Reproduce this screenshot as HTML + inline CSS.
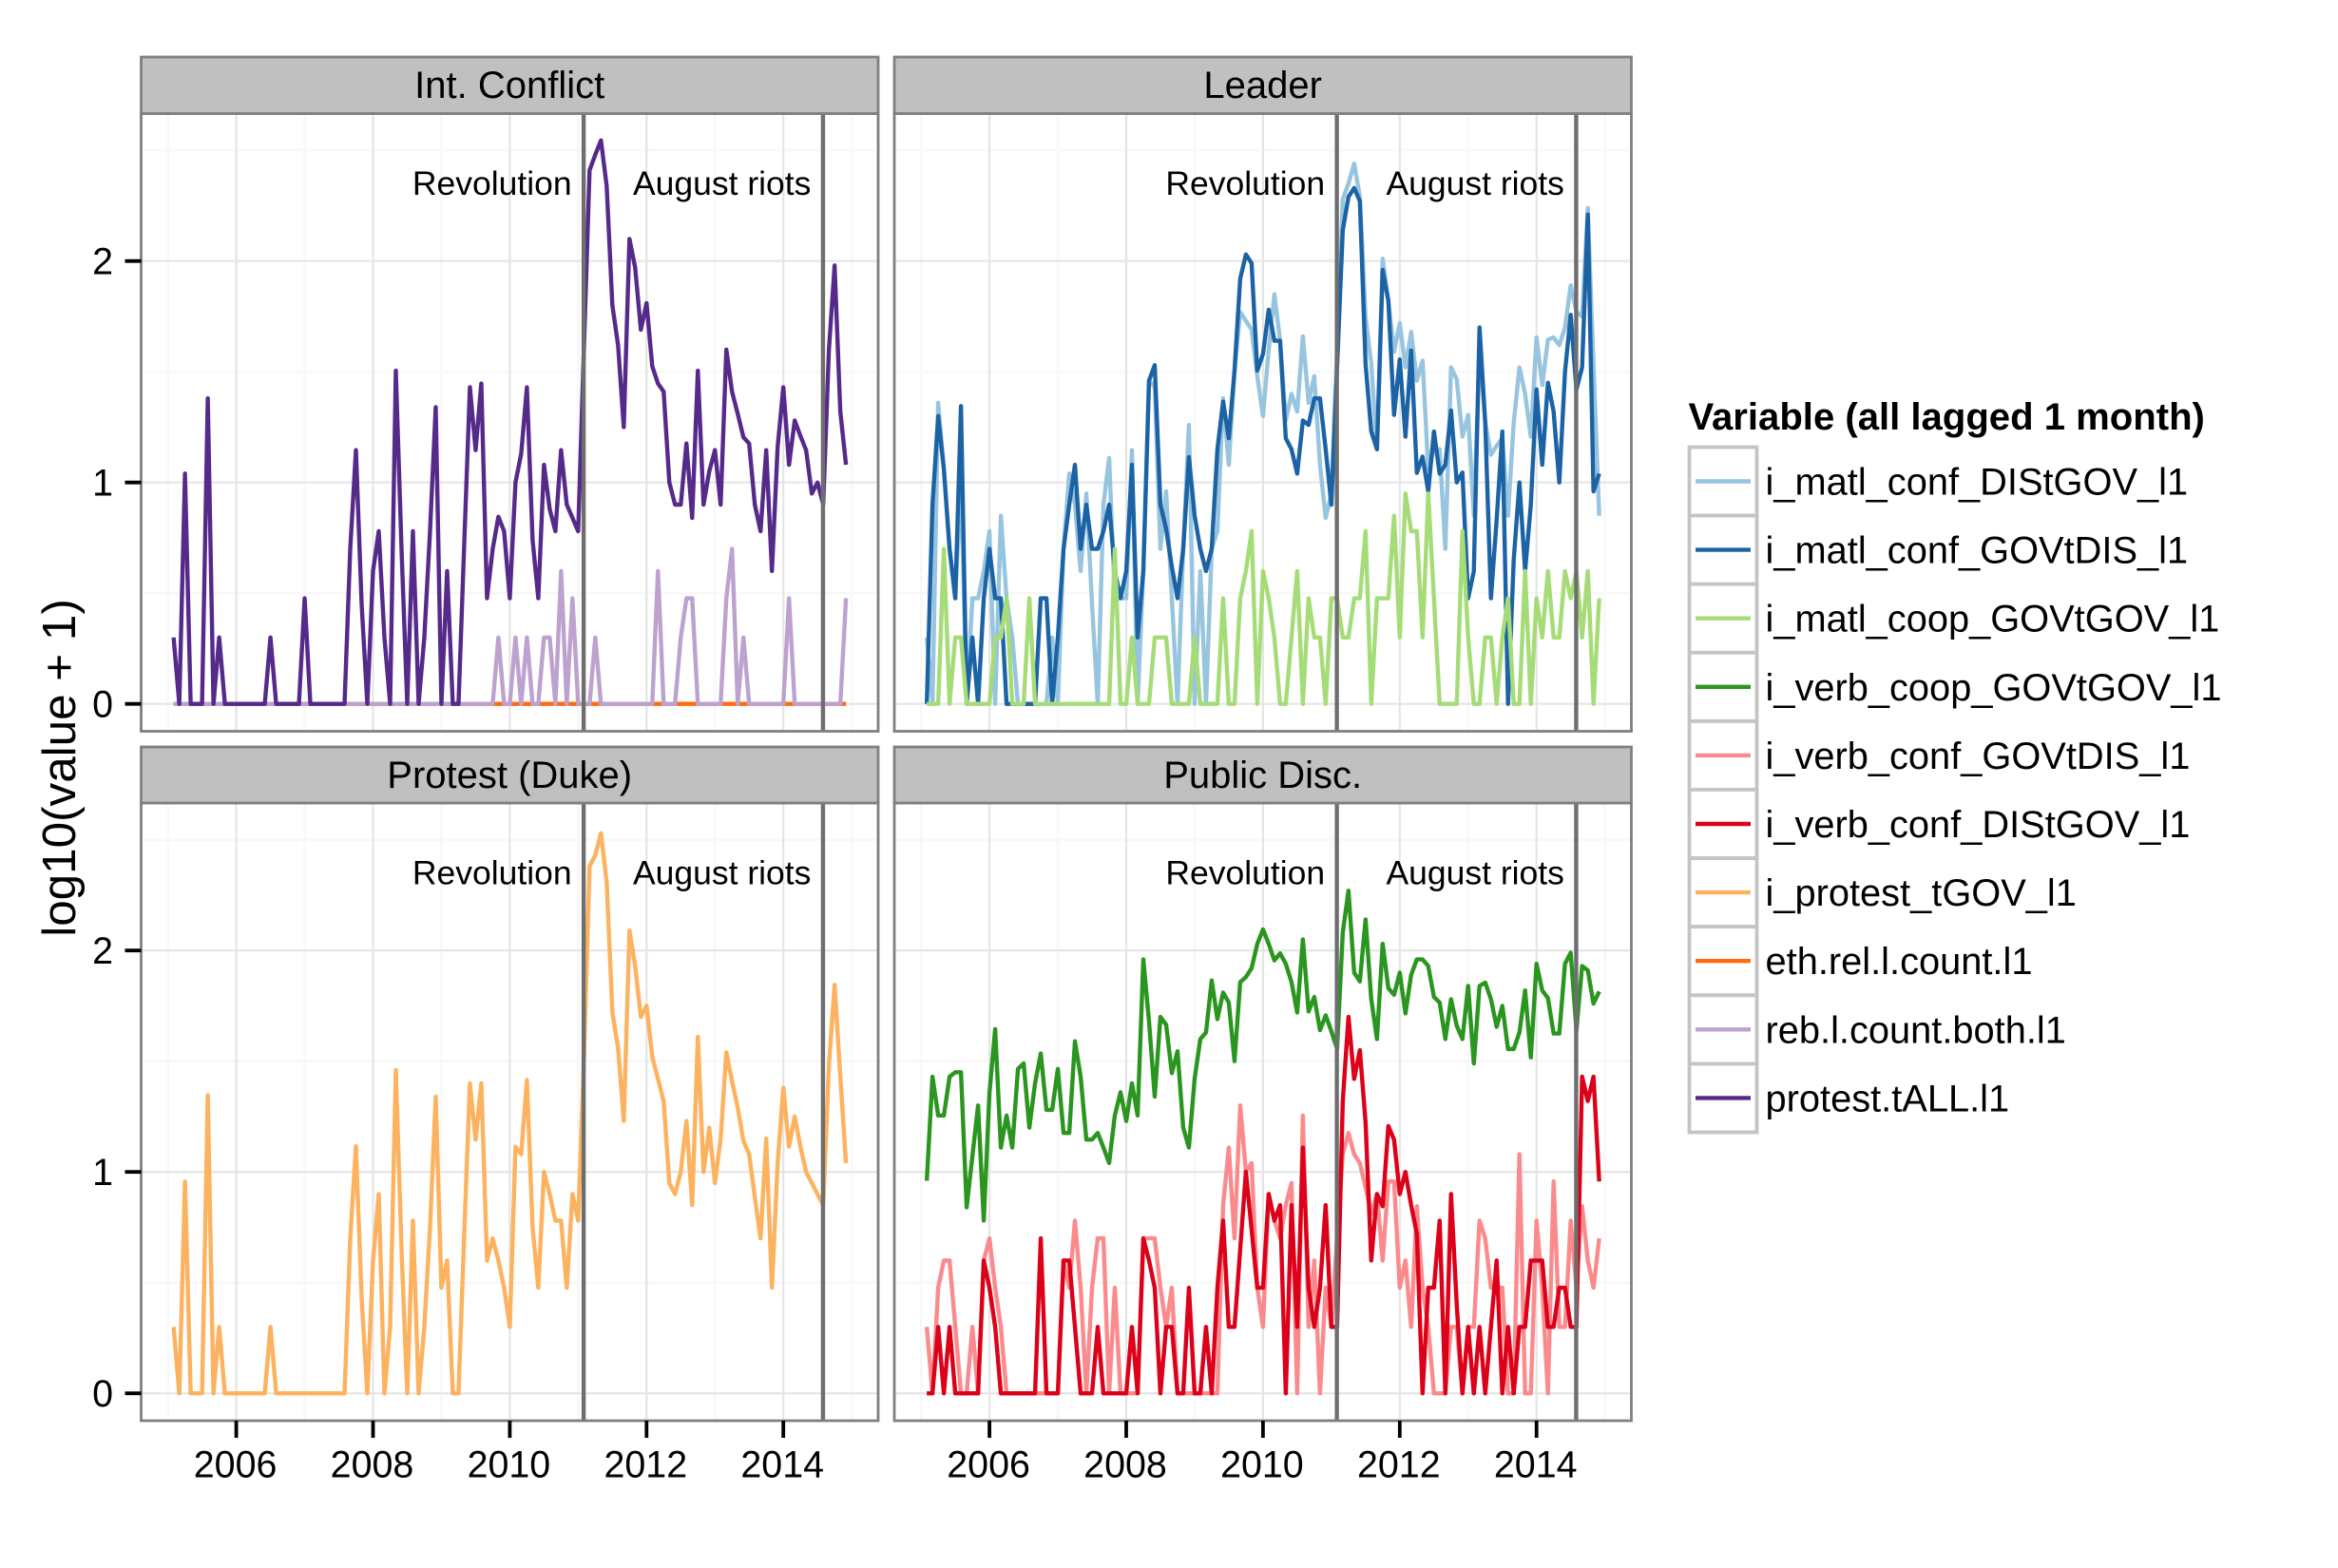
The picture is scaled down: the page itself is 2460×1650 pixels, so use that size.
<!DOCTYPE html>
<html lang="en">
<head>
<meta charset="utf-8">
<title>log10(value + 1) by variable group</title>
<style>
html,body{margin:0;padding:0;background:#fff;}
svg{display:block;}
text{font-family:"Liberation Sans",Arial,sans-serif;fill:#000;}
</style>
</head>
<body>
<svg id="chart" xmlns="http://www.w3.org/2000/svg" width="2460" height="1650" viewBox="0 0 2460 1650">
  <rect x="0" y="0" width="2460" height="1650" fill="#ffffff"/>
  <g id="panels"></g>

  <g>
    <rect x="148.5" y="60" width="775.5" height="59.5" fill="#c0c0c0" stroke="#7f7f7f" stroke-width="2.8"/>
    <text x="536.2" y="103" font-size="40" text-anchor="middle">Int. Conflict</text>
  </g>
  <g>
    <rect x="941" y="60" width="775.5" height="59.5" fill="#c0c0c0" stroke="#7f7f7f" stroke-width="2.8"/>
    <text x="1328.7" y="103" font-size="40" text-anchor="middle">Leader</text>
  </g>
  <g>
    <rect x="148.5" y="786" width="775.5" height="59" fill="#c0c0c0" stroke="#7f7f7f" stroke-width="2.8"/>
    <text x="536.2" y="829" font-size="40" text-anchor="middle">Protest (Duke)</text>
  </g>
  <g>
    <rect x="941" y="786" width="775.5" height="59" fill="#c0c0c0" stroke="#7f7f7f" stroke-width="2.8"/>
    <text x="1328.7" y="829" font-size="40" text-anchor="middle">Public Disc.</text>
  </g>

  <text transform="translate(79,808) rotate(-90)" font-size="49.4" text-anchor="middle">log10(value + 1)</text>

  <g>
    <text x="1776.5" y="452" font-size="40.1" font-weight="bold">Variable (all lagged 1 month)</text>
    <g>
      <rect x="1777.5" y="470.5" width="71" height="72.1" fill="#fff" stroke="#c4c4c4" stroke-width="3.8"/>
      <line x1="1784" x2="1842" y1="506.5" y2="506.5" stroke="#97c4de" stroke-width="4.4"/>
      <text x="1857.5" y="520.5" font-size="39.8">i_matl_conf_DIStGOV_l1</text>
    </g>
    <g>
      <rect x="1777.5" y="542.6" width="71" height="72.1" fill="#fff" stroke="#c4c4c4" stroke-width="3.8"/>
      <line x1="1784" x2="1842" y1="578.6" y2="578.6" stroke="#1c63a6" stroke-width="4.4"/>
      <text x="1857.5" y="592.6" font-size="39.8">i_matl_conf_GOVtDIS_l1</text>
    </g>
    <g>
      <rect x="1777.5" y="614.7" width="71" height="72.1" fill="#fff" stroke="#c4c4c4" stroke-width="3.8"/>
      <line x1="1784" x2="1842" y1="650.7" y2="650.7" stroke="#a6dc78" stroke-width="4.4"/>
      <text x="1857.5" y="664.7" font-size="39.8">i_matl_coop_GOVtGOV_l1</text>
    </g>
    <g>
      <rect x="1777.5" y="686.8" width="71" height="72.1" fill="#fff" stroke="#c4c4c4" stroke-width="3.8"/>
      <line x1="1784" x2="1842" y1="722.8" y2="722.8" stroke="#2a951f" stroke-width="4.4"/>
      <text x="1857.5" y="736.8" font-size="39.8">i_verb_coop_GOVtGOV_l1</text>
    </g>
    <g>
      <rect x="1777.5" y="758.9" width="71" height="72.1" fill="#fff" stroke="#c4c4c4" stroke-width="3.8"/>
      <line x1="1784" x2="1842" y1="794.9" y2="794.9" stroke="#fb8a8d" stroke-width="4.4"/>
      <text x="1857.5" y="808.9" font-size="39.8">i_verb_conf_GOVtDIS_l1</text>
    </g>
    <g>
      <rect x="1777.5" y="831" width="71" height="72.1" fill="#fff" stroke="#c4c4c4" stroke-width="3.8"/>
      <line x1="1784" x2="1842" y1="867" y2="867" stroke="#dc0019" stroke-width="4.4"/>
      <text x="1857.5" y="881" font-size="39.8">i_verb_conf_DIStGOV_l1</text>
    </g>
    <g>
      <rect x="1777.5" y="903.1" width="71" height="72.1" fill="#fff" stroke="#c4c4c4" stroke-width="3.8"/>
      <line x1="1784" x2="1842" y1="939.1" y2="939.1" stroke="#fcb25e" stroke-width="4.4"/>
      <text x="1857.5" y="953.1" font-size="39.8">i_protest_tGOV_l1</text>
    </g>
    <g>
      <rect x="1777.5" y="975.2" width="71" height="72.1" fill="#fff" stroke="#c4c4c4" stroke-width="3.8"/>
      <line x1="1784" x2="1842" y1="1011.2" y2="1011.2" stroke="#fc6c0a" stroke-width="4.4"/>
      <text x="1857.5" y="1025.2" font-size="39.8">eth.rel.l.count.l1</text>
    </g>
    <g>
      <rect x="1777.5" y="1047.3" width="71" height="72.1" fill="#fff" stroke="#c4c4c4" stroke-width="3.8"/>
      <line x1="1784" x2="1842" y1="1083.3" y2="1083.3" stroke="#bda2cf" stroke-width="4.4"/>
      <text x="1857.5" y="1097.3" font-size="39.8">reb.l.count.both.l1</text>
    </g>
    <g>
      <rect x="1777.5" y="1119.4" width="71" height="72.1" fill="#fff" stroke="#c4c4c4" stroke-width="3.8"/>
      <line x1="1784" x2="1842" y1="1155.4" y2="1155.4" stroke="#552a8a" stroke-width="4.4"/>
      <text x="1857.5" y="1169.4" font-size="39.8">protest.tALL.l1</text>
    </g>
  </g>
</svg>

<script>
// Series run monthly from Feb 2005 to Dec 2014; values are log10(count + 1).
const startYear = 2005;
const startMonth = 1;

const xTickYears = [2006, 2008, 2010, 2012, 2014];
const xMinorYears = [2005, 2007, 2009, 2011, 2013, 2015];
const yTickValues = [0, 1, 2];
const yMinorValues = [0.5, 1.5, 2.5];
const eventDates = [2011.08, 2014.58];
const eventLabels = ["Revolution", "August riots"];

const ethRelCount = [
0,0,0,0,0,0,0,0,0,0, 0,0,0,0,0,0,0,0,0,0,
0,0,0,0,0,0,0,0,0,0, 0,0,0,0,0,0,0,0,0,0,
0,0,0,0,0,0,0,0,0,0, 0,0,0,0,0,0,0,0,0,0,
0,0,0,0,0,0,0,0,0,0, 0,0,0,0,0,0,0,0,0,0,
0,0,0,0,0,0,0,0,0,0, 0,0,0,0,0,0,0,0,0,0,
0,0,0,0,0,0,0,0,0,0, 0,0,0,0,0,0,0,0,0];

const rebCountBoth = [
0,0,0,0,0,0,0,0,0,0, 0,0,0,0,0,0,0,0,0,0,
0,0,0,0,0,0,0,0,0,0, 0,0,0,0,0,0,0,0,0,0,
0,0,0,0,0,0,0,0,0,0, 0,0,0,0,0,0,0,.30,0,0,
.30,0,.30,0,0,.30,.30,0,.60,0, .477,0,0,0,.30,0,0,0,0,0,
0,0,0,0,0,.60,0,0,0,.30, .477,.477,0,0,0,0,0,.477,.70,0,
.30,0,0,0,0,0,0,0,.477,0, 0,0,0,0,0,0,0,0,.477];

const protestTAll = [
.30,0,1.04,0,0,0,1.38,0,.30,0, 0,0,0,0,0,0,0,.30,0,0,
0,0,0,.477,0,0,0,0,0,0, 0,.70,1.146,.45,0,.60,.78,.30,0,1.505,
.70,0,.78,0,.30,.78,1.34,0,.60,0, 0,.72,1.43,1.146,1.447,.477,.70,.845,.78,.477,
1.0,1.13,1.43,.74,.477,1.08,.88,.78,1.146,.90, .84,.78,1.6,2.41,2.48,2.545,2.34,1.80,1.62,1.25,
2.10,1.97,1.69,1.81,1.525,1.447,1.41,1.0,.90,.90, 1.176,.84,1.505,.90,1.05,1.146,.90,1.60,1.41,1.31,
1.204,1.176,.90,.78,1.146,.60,1.16,1.43,1.08,1.28, 1.21,1.146,.95,1.0,.90,1.6,1.98,1.32,1.08];

const matlConfDisTGov = [
.30,0,1.36,1.06,.70,.477,1.0,0,.477,.477, .60,.78,0,.85,.477,.30,0,0,0,0,
0,0,.30,0,.70,1.04,.90,.60,.95,.45, 0,.90,1.11,.477,.477,.477,1.146,0,.60,1.46,
1.43,.70,.96,.477,0,.70,1.26,0,.60,0, .70,.78,1.38,1.08,1.5,1.77,1.73,1.69,1.48,1.30,
1.6,1.85,1.64,1.28,1.40,1.32,1.66,1.36,1.48,1.08, .84,.95,1.6,2.28,2.35,2.44,2.29,1.75,1.535,1.15,
2.01,1.82,1.59,1.72,1.52,1.68,1.46,1.55,1.06,1.15, 1.15,.70,1.52,1.465,1.207,1.305,.85,1.6,1.27,1.125,
1.166,1.2,.85,1.27,1.52,1.40,1.207,1.655,1.44,1.645, 1.655,1.62,1.70,1.89,1.77,1.75,2.24,1.53,.85];

const matlConfGovTDis = [
0,.90,1.30,1.06,.70,.477,1.345,0,.30,0, .477,.70,.477,.477,0,0,0,0,0,0,
.477,.477,0,.30,.70,.90,1.08,.70,.90,.70, .70,.78,.90,.60,.477,.60,1.08,.30,.60,1.46,
1.53,.90,.79,.62,.477,.70,1.115,.85,.70,.60, .70,1.15,1.365,1.20,1.505,1.92,2.03,1.99,1.505,1.58,
1.78,1.64,1.64,1.20,1.15,1.04,1.28,1.26,1.38,1.38, 1.15,.90,1.52,2.14,2.29,2.33,2.27,1.535,1.23,1.15,
1.96,1.82,1.305,1.556,1.207,1.596,1.043,1.117,.96,1.23, 1.04,1.08,1.325,1.0,1.045,.477,.60,1.70,1.27,.477,
.83,1.23,0,.65,1.0,.60,.90,1.42,1.08,1.45, 1.32,1.0,1.50,1.757,1.42,1.52,2.21,.96,1.04];

const matlCoopGovTGov = [
0,0,0,.70,0,.30,.30,0,0,0, 0,0,.30,.30,.477,0,0,0,.477,0,
0,0,0,0,0,0,0,0,0,0, 0,0,0,.70,0,0,.30,0,0,0,
.30,.30,.30,0,0,0,0,.30,0,0, 0,0,.477,0,0,.477,.60,.78,0,.60,
.477,.30,0,0,.30,.60,0,.477,.30,.30, 0,.477,.477,.30,.30,.477,.477,.78,0,.477,
.477,.477,.85,.30,.95,.78,.78,.30,.95,.477, 0,0,0,0,.78,.30,0,0,.30,.30,
0,.30,.477,0,0,.60,0,.477,.30,.60, .30,.30,.60,.477,.60,.30,.60,0,.477];

const protestTGov = [
.30,0,.956,0,0,0,1.346,0,.30,0, 0,0,0,0,0,0,0,.30,0,0,
0,0,0,0,0,0,0,0,0,0, 0,.70,1.116,.43,0,.60,.90,0,.30,1.46,
.65,0,.78,0,.30,.75,1.34,.477,.60,0, 0,.72,1.40,1.146,1.40,.60,.70,.60,.477,.30,
1.114,1.08,1.415,.75,.477,1.0,.90,.78,.78,.477, .90,.78,1.5,2.38,2.43,2.53,2.31,1.72,1.56,1.23,
2.09,1.93,1.70,1.75,1.52,1.42,1.32,.95,.90,1.0, 1.23,.85,1.61,1.0,1.20,.95,1.15,1.54,1.41,1.29,
1.14,1.08,.886,.70,1.15,.477,1.04,1.38,1.114,1.25, 1.114,1.0,.95,.90,.85,1.48,1.845,1.43,1.04];

const verbCoopGovTGov = [
.96,1.43,1.255,1.255,1.43,1.45,1.45,.84,1.07,1.30, .78,1.357,1.645,1.11,1.255,1.11,1.465,1.49,1.20,1.40,
1.535,1.28,1.28,1.465,1.176,1.176,1.59,1.43,1.146,1.146, 1.176,1.11,1.04,1.255,1.36,1.23,1.40,1.255,1.96,1.68,
1.34,1.70,1.665,1.446,1.545,1.20,1.11,1.42,1.60,1.63, 1.865,1.69,1.81,1.765,1.50,1.857,1.88,1.92,2.03,2.095,
2.03,1.955,1.987,1.94,1.857,1.72,2.05,1.725,1.79,1.64, 1.707,1.635,1.557,2.08,2.27,1.90,1.86,2.14,1.78,1.60,
2.03,1.83,1.80,1.90,1.716,1.89,1.96,1.96,1.93,1.79, 1.765,1.60,1.78,1.66,1.60,1.84,1.49,1.84,1.855,1.78,
1.655,1.75,1.555,1.555,1.63,1.82,1.517,1.94,1.82,1.785, 1.625,1.625,1.94,1.99,1.64,1.93,1.91,1.76,1.815];

const verbConfGovTDis = [
.30,0,.477,.60,.60,.30,0,0,.30,0, .60,.70,.477,.30,0,0,0,0,0,0,
0,0,0,0,.60,.477,.78,.477,0,.477, .70,.70,0,.477,0,0,0,0,.70,.70,
.70,.477,.30,.477,0,0,0,0,0,0, 0,0,.85,1.11,.70,1.30,1.0,1.04,.477,.30,
.90,.78,.70,.85,.95,0,1.255,.30,.60,0, .477,.30,.70,1.08,1.176,1.08,1.04,.93,.81,.90,
.60,.957,.957,.477,.60,.30,.845,.477,.30,0, 0,0,.30,.30,0,.30,.30,.78,.70,.477,
.477,.477,0,0,1.08,0,0,.78,.477,0, .957,.30,.30,.78,.477,.845,.60,.477,.70];

const verbConfDisTGov = [
0,0,.30,0,.30,0,0,0,0,0, .60,.477,.30,0,0,0,0,0,0,0,
.70,0,0,0,.60,.60,.30,0,0,0, .30,0,0,0,0,0,.30,0,.70,.60,
.477,0,.30,.30,0,0,.477,0,0,.30, 0,.477,.78,.30,.30,.65,1.0,.74,.477,.477,
.90,.78,.85,0,.85,.30,1.11,.477,.30,.477, .85,.30,.30,1.32,1.70,1.42,1.55,1.225,.60,.90,
.845,1.207,1.146,.90,1.0,.85,.72,0,.477,.477, .78,0,.90,.40,0,.30,0,.30,0,.30,
.60,0,.30,0,.30,.30,.60,.60,.60,.30, .30,.477,.477,.30,.30,1.43,1.32,1.43,.957];

const NS = "http://www.w3.org/2000/svg";
const panelWidth = 775.5;
const panelHeight = 650;
const yearPx = 71.95;
const unitPx = 233;
const zeroOffset = 621.2;
const year2006Offset = 100.1;

function mk(tag, attrs, parent) {
  const el = document.createElementNS(NS, tag);
  for (const k in attrs) el.setAttribute(k, attrs[k]);
  parent.appendChild(el);
  return el;
}

function xScale(panel, year) {
  return panel.left + year2006Offset + (year - 2006) * yearPx;
}
function yScale(panel, v) {
  return panel.top + zeroOffset - v * unitPx;
}
function monthToYear(i) {
  return startYear + (startMonth + i) / 12;
}

function drawPanel(panel, root) {
  const g = mk("g", {}, root);
  
  

  const bg = mk("rect", {x: panel.left, y: panel.top, width: panelWidth, height: panelHeight, fill: "#ffffff"}, g);
  
  

  yMinorValues.forEach(function (v) {
    const l = mk("line", {x1: panel.left, x2: panel.left + panelWidth, y1: yScale(panel, v), y2: yScale(panel, v), stroke: "#f8f8f8", "stroke-width": 2.6}, g);
    
    
  });
  xMinorYears.forEach(function (yr) {
    const l = mk("line", {x1: xScale(panel, yr), x2: xScale(panel, yr), y1: panel.top, y2: panel.top + panelHeight, stroke: "#f8f8f8", "stroke-width": 2.6}, g);
    
    
  });
  yTickValues.forEach(function (v) {
    const l = mk("line", {x1: panel.left, x2: panel.left + panelWidth, y1: yScale(panel, v), y2: yScale(panel, v), stroke: "#e5e5e5", "stroke-width": 2.2}, g);
    
    
  });
  xTickYears.forEach(function (yr) {
    const l = mk("line", {x1: xScale(panel, yr), x2: xScale(panel, yr), y1: panel.top, y2: panel.top + panelHeight, stroke: "#e5e5e5", "stroke-width": 2.2}, g);
    
    
  });

  panel.series.forEach(function (s) {
    const d = s.values.map(function (v, i) {
      return (i ? "L" : "M") + xScale(panel, monthToYear(i)).toFixed(2) + " " + yScale(panel, v).toFixed(2);
    }).join("");
    const p = mk("path", {d: d, fill: "none", stroke: s.color, "stroke-width": 4.4, "stroke-linejoin": "round", "stroke-linecap": "butt"}, g);
    
    
  });

  eventDates.forEach(function (date, k) {
    const x = xScale(panel, date);
    const l = mk("line", {x1: x, x2: x, y1: panel.top, y2: panel.top + panelHeight, stroke: "#6e6e6e", "stroke-width": 4.4}, g);
    
    
    const t = mk("text", {x: x - 12.5, y: panel.top + 85.5, "font-size": 35.5, "text-anchor": "end"}, g);
    
    
    t.textContent = eventLabels[k];
  });

  const border = mk("rect", {x: panel.left, y: panel.top, width: panelWidth, height: panelHeight, fill: "none", stroke: "#7f7f7f", "stroke-width": 2.8}, g);
  
  

  if (panel.showY) {
    yTickValues.forEach(function (v) {
      const y = yScale(panel, v);
      const tick = mk("line", {x1: panel.left - 17, x2: panel.left, y1: y, y2: y, stroke: "#000", "stroke-width": 3.8}, g);
      
      
      const t = mk("text", {x: 119, y: y + 14, "font-size": 39.4, "text-anchor": "end"}, g);
      
      
      t.textContent = String(v);
    });
  }
  if (panel.showX) {
    xTickYears.forEach(function (yr) {
      const x = xScale(panel, yr);
      const tick = mk("line", {x1: x, x2: x, y1: panel.top + panelHeight, y2: panel.top + panelHeight + 18, stroke: "#000", "stroke-width": 3.8}, g);
      
      
      const t = mk("text", {x: x - 1, y: 1554.5, "font-size": 39.4, "text-anchor": "middle"}, g);
      
      
      t.textContent = String(yr);
    });
  }
}

const panelDefs = [
  {name: "panel-int-conflict", left: 148.5, top: 119.5, showY: true, showX: false, series: [
    {name: "line-eth-rel-l-count", color: "#fc6c0a", values: ethRelCount},
    {name: "line-reb-l-count-both", color: "#bda2cf", values: rebCountBoth},
    {name: "line-protest-tall", color: "#552a8a", values: protestTAll}]},
  {name: "panel-leader", left: 941, top: 119.5, showY: false, showX: false, series: [
    {name: "line-i-matl-conf-distgov", color: "#97c4de", values: matlConfDisTGov},
    {name: "line-i-matl-conf-govtdis", color: "#1c63a6", values: matlConfGovTDis},
    {name: "line-i-matl-coop-govtgov", color: "#a6dc78", values: matlCoopGovTGov}]},
  {name: "panel-protest-duke", left: 148.5, top: 845, showY: true, showX: true, series: [
    {name: "line-i-protest-tgov", color: "#fcb25e", values: protestTGov}]},
  {name: "panel-public-disc", left: 941, top: 845, showY: false, showX: true, series: [
    {name: "line-i-verb-coop-govtgov", color: "#2a951f", values: verbCoopGovTGov},
    {name: "line-i-verb-conf-govtdis", color: "#fb8a8d", values: verbConfGovTDis},
    {name: "line-i-verb-conf-distgov", color: "#dc0019", values: verbConfDisTGov}]}
];

const panelsRoot = document.getElementById("panels");
panelDefs.forEach(function (p) { drawPanel(p, panelsRoot); });
</script>
</body>
</html>
